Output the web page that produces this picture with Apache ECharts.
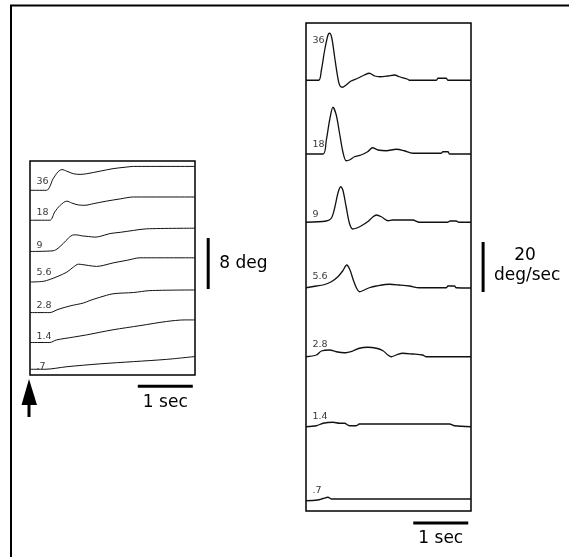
<!DOCTYPE html>
<html>
<head>
<meta charset="utf-8">
<script src="https://cdn.jsdelivr.net/npm/echarts@6/dist/echarts.min.js"></script>
<style>
html, body { margin: 0; padding: 0; background: #fff; }
#chart { width: 569px; height: 557px; }
</style>
</head>
<body>
<div id="chart"></div>
<script>
// stimulus speeds (deg/sec), top trace to bottom trace
const speeds = ['36', '18', '9', '5.6', '2.8', '1.4', '.7'];

// left panel: eye position, [time (s), deg above the trace's own baseline]
const pos36 = [[0,0],[0.30,0],[0.42,1.8],[0.51,2.9],[0.58,3.25],[0.67,3.0],[0.79,2.6],[0.91,2.5],[1.03,2.6],[1.27,3.0],[1.51,3.4],[1.76,3.65],[1.88,3.75],[3.0,3.75]];
const pos18 = [[0,0],[0.36,0],[0.45,1.3],[0.55,2.35],[0.67,3.0],[0.76,2.7],[0.88,2.4],[1.0,2.35],[1.15,2.6],[1.39,3.0],[1.64,3.35],[1.88,3.65],[3.0,3.65]];
const pos9 = [[0,0],[0.42,0.1],[0.51,0.5],[0.61,1.3],[0.70,2.1],[0.79,2.6],[0.85,2.6],[0.94,2.45],[1.06,2.35],[1.18,2.25],[1.27,2.35],[1.45,2.8],[1.64,3.0],[1.88,3.3],[2.12,3.55],[3.0,3.65]];
const pos5_6 = [[0,0],[0.24,0.1],[0.36,0.4],[0.51,0.9],[0.67,1.55],[0.79,2.35],[0.88,2.8],[0.94,2.75],[1.06,2.6],[1.21,2.45],[1.33,2.6],[1.51,3.0],[1.76,3.4],[2.0,3.8],[3.0,3.8]];
const pos2_8 = [[0,0],[0.36,0],[0.51,0.5],[0.73,1.05],[0.97,1.5],[1.09,1.9],[1.27,2.4],[1.51,2.95],[1.88,3.15],[2.18,3.45],[3.0,3.55]];
const pos1_4 = [[0,0],[0.36,0],[0.48,0.4],[0.79,0.85],[1.03,1.2],[1.51,2.0],[2.0,2.65],[2.48,3.3],[2.82,3.55],[3.0,3.55]];
const pos0_7 = [[0,0],[0.27,0],[0.67,0.4],[1.27,0.85],[1.88,1.2],[2.48,1.55],[3.0,2.0]];
const posBase = [29.0, 24.3, 19.4, 14.6, 9.8, 5.1, 0.9];

// right panel: eye velocity, [time (s), deg/sec above baseline]
const vel36 = [[0,0],[0.23,0],[0.28,4.1],[0.34,12.1],[0.40,18.1],[0.43,18.8],[0.47,16.8],[0.52,9.4],[0.57,2.1],[0.61,-1.9],[0.66,-2.8],[0.73,-1.9],[0.82,-0.3],[0.94,0.8],[1.06,2.1],[1.15,2.8],[1.25,1.7],[1.34,1.4],[1.49,1.7],[1.61,2.1],[1.70,1.4],[1.85,0.4],[1.88,0],[2.37,0],[2.40,0.8],[2.55,0.8],[2.58,0],[3.0,0]];
const vel18 = [[0,0],[0.31,0],[0.37,5.6],[0.43,13.6],[0.49,18.7],[0.55,15.6],[0.61,8.3],[0.67,0.9],[0.73,-2.7],[0.79,-2.4],[0.88,-1.1],[1.0,-0.4],[1.12,0.9],[1.21,2.5],[1.31,1.6],[1.46,1.3],[1.64,1.9],[1.79,1.3],[1.94,0.3],[2.46,0.3],[2.49,0.9],[2.58,0.9],[2.61,0],[3.0,0]];
const vel9 = [[0,0],[0.37,0.5],[0.46,1.6],[0.52,5.6],[0.58,11.6],[0.63,14.2],[0.67,12.9],[0.73,6.2],[0.79,-0.4],[0.85,-2.7],[0.91,-2.4],[1.0,-1.5],[1.12,0.2],[1.21,2.0],[1.28,2.9],[1.37,2.2],[1.49,0.6],[1.58,0.9],[1.94,0.9],[2.06,0],[2.58,0],[2.62,0.5],[2.73,0.5],[2.78,0],[3.0,0]];
const vel5_6 = [[0,0.1],[0.19,0.8],[0.31,1.2],[0.46,2.5],[0.58,4.5],[0.67,6.9],[0.74,9.2],[0.80,7.2],[0.86,3.2],[0.92,-0.1],[0.97,-1.5],[1.06,-0.8],[1.15,0.1],[1.28,0.8],[1.52,1.5],[1.70,1.2],[1.88,0.8],[2.06,0.1],[2.55,0.1],[2.58,0.8],[2.70,0.8],[2.73,0.1],[3.0,0]];
const vel2_8 = [[0,0],[0.19,0.7],[0.28,2.3],[0.43,2.7],[0.55,2.0],[0.70,1.6],[0.85,2.3],[0.97,3.4],[1.12,3.8],[1.28,3.4],[1.40,2.4],[1.49,0.7],[1.55,0],[1.64,0.7],[1.76,1.4],[1.94,1.1],[2.12,0.7],[2.18,0],[3.0,0]];
const vel1_4 = [[0,0],[0.19,0.4],[0.31,1.4],[0.49,1.8],[0.61,1.4],[0.70,1.4],[0.79,0.4],[0.91,0.4],[0.97,1.1],[2.61,1.1],[2.70,0.4],[3.0,0]];
const vel0_7 = [[0,0],[0.21,0.3],[0.31,0.9],[0.40,1.4],[0.46,0.7],[3.0,0.7]];
const velBase = [172.3, 142.8, 115.5, 89.2, 61.7, 33.7, 4.1];

const posTraces = [pos36, pos18, pos9, pos5_6, pos2_8, pos1_4, pos0_7];
const velTraces = [vel36, vel18, vel9, vel5_6, vel2_8, vel1_4, vel0_7];

// where the speed labels sit above each baseline (axis units)
const posLabelLift = [1.3, 1.2, 1.0, 1.5, 1.1, 0.9, 0.5];
const velLabelLift = [16, 3.6, 3.2, 4.4, 5.0, 4.0, 4.0];

const FONT = 'DejaVu Sans';
const chart = echarts.init(document.getElementById('chart'));

function hiddenAxis(extra) {
    return Object.assign({
        type: 'value',
        axisLine: { show: false },
        axisTick: { show: false },
        axisLabel: { show: false },
        splitLine: { show: false }
    }, extra);
}

function traceSeries(traces, base, grid, width) {
    return traces.map(function (tr, i) {
        return {
            type: 'line',
            xAxisIndex: grid,
            yAxisIndex: grid,
            symbol: 'none',
            smooth: 0.3,
            silent: true,
            lineStyle: { color: '#111', width: width },
            data: tr.map(function (p) { return [p[0], p[1] + base[i]]; })
        };
    });
}

function labelSeries(base, lift, grid, dist) {
    return {
        type: 'scatter',
        xAxisIndex: grid,
        yAxisIndex: grid,
        symbolSize: 1,
        silent: true,
        itemStyle: { color: 'transparent' },
        label: {
            show: true,
            position: 'right',
            distance: dist,
            color: '#000',
            fontFamily: FONT,
            fontSize: 9.5,
            formatter: function (p) { return speeds[p.dataIndex]; }
        },
        data: base.map(function (b, i) { return [0, b + lift[i]]; })
    };
}

const option = {
    animation: false,
    backgroundColor: '#fff',
    grid: [
        { left: 30, top: 161, width: 165, height: 214, show: true, borderColor: '#000', borderWidth: 1.5 },
        { left: 306, top: 23, width: 165, height: 488, show: true, borderColor: '#000', borderWidth: 1.5 }
    ],
    xAxis: [
        hiddenAxis({ gridIndex: 0, min: 0, max: 3 }),
        hiddenAxis({ gridIndex: 1, min: 0, max: 3 })
    ],
    yAxis: [
        hiddenAxis({ gridIndex: 0, min: 0, max: 33.6 }),
        hiddenAxis({ gridIndex: 1, min: 0, max: 195.2 })
    ],
    series: [].concat(
        traceSeries(posTraces, posBase, 0, 1),
        traceSeries(velTraces, velBase, 1, 1.3),
        [
            labelSeries(posBase, posLabelLift, 0, 6),
            labelSeries(velBase, velLabelLift, 1, 6)
        ]
    )
};
chart.setOption(option);

// scale bars, given in axis units and mapped through each panel's axes
function px(grid, p) { return chart.convertToPixel({ gridIndex: grid }, p); }
function bar(grid, a, b) {
    const p = px(grid, a), q = px(grid, b);
    return { type: 'line', shape: { x1: p[0], y1: p[1], x2: q[0], y2: q[1] }, style: { stroke: '#000', lineWidth: 3 } };
}

const degMid = px(0, [3.24, 17.5]);
const secL = px(0, [2.46, -1.75]);
const velMid = px(1, [3.22, 97.6]);
const secR = px(1, [2.45, -4.8]);
const txt = { fontFamily: FONT, fontSize: 17, fill: '#000' };

chart.setOption({
    graphic: [
        { type: 'polyline', shape: { points: [[11, 557], [11, 5.5], [569, 5.5]] }, style: { stroke: '#000', lineWidth: 2, fill: null } },
        bar(0, [3.24, 13.5], [3.24, 21.5]),   // 8 deg
        bar(0, [1.96, -1.75], [2.96, -1.75]), // 1 sec
        bar(1, [3.22, 87.6], [3.22, 107.6]),  // 20 deg/sec
        bar(1, [1.95, -4.8], [2.95, -4.8]),   // 1 sec
        { type: 'text', x: degMid[0] + 11, y: degMid[1], style: Object.assign({ text: '8 deg', verticalAlign: 'middle' }, txt) },
        { type: 'text', x: secL[0], y: secL[1] + 16, style: Object.assign({ text: '1 sec', align: 'center', verticalAlign: 'middle' }, txt) },
        { type: 'text', x: velMid[0] + 42, y: velMid[1] - 11, style: Object.assign({ text: '20', align: 'center', verticalAlign: 'middle' }, txt) },
        { type: 'text', x: velMid[0] + 44, y: velMid[1] + 9, style: Object.assign({ text: 'deg/sec', align: 'center', verticalAlign: 'middle' }, txt) },
        { type: 'text', x: secR[0], y: secR[1] + 16, style: Object.assign({ text: '1 sec', align: 'center', verticalAlign: 'middle' }, txt) },
        // stimulus onset arrow
        { type: 'polygon', shape: { points: [[29, 379], [21.5, 405], [37, 405]] }, style: { fill: '#000' } },
        { type: 'rect', shape: { x: 27.5, y: 404, width: 3, height: 13 }, style: { fill: '#000' } }
    ]
});
</script>
</body>
</html>
